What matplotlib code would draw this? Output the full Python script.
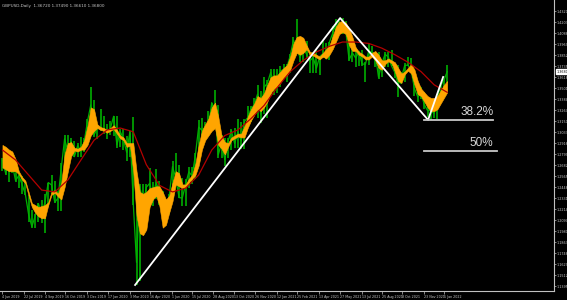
import numpy as np
import pandas as pd
import matplotlib
matplotlib.use('Agg')
import matplotlib.pyplot as plt

# weekly GBPUSD bars, week ending 7 Jun 2019 .. 14 Jan 2022
closes = [1.2735, 1.2595, 1.2740, 1.2695, 1.2520, 1.2575, 1.2480, 1.2375, 1.2160, 1.2030,
          1.2145, 1.2275, 1.2160, 1.2290, 1.2500, 1.2475, 1.2290, 1.2335, 1.2660, 1.2965,
          1.2830, 1.2940, 1.2775, 1.2895, 1.2835, 1.2935, 1.3150, 1.3325, 1.3005, 1.3080,
          1.3080, 1.3065, 1.3045, 1.3075, 1.3205, 1.2900, 1.3045, 1.2960, 1.2820, 1.3045,
          1.2280, 1.1650, 1.2460, 1.2265, 1.2450, 1.2490, 1.2360, 1.2500, 1.2400, 1.2130,
          1.2170, 1.2350, 1.2670, 1.2550, 1.2340, 1.2335, 1.2480, 1.2615, 1.2570, 1.2795,
          1.3090, 1.3055, 1.3090, 1.3090, 1.3350, 1.3275, 1.2795, 1.2920, 1.2745, 1.2940,
          1.3050, 1.2915, 1.3040, 1.2945, 1.3150, 1.3190, 1.3285, 1.3325, 1.3440, 1.3225,
          1.3515, 1.3555, 1.3670, 1.3565, 1.3595, 1.3685, 1.3705, 1.3730, 1.3850, 1.4015,
          1.3925, 1.3830, 1.3925, 1.3865, 1.3795, 1.3830, 1.3715, 1.3840, 1.3870, 1.3815,
          1.3995, 1.4090, 1.4185, 1.4185, 1.4155, 1.4110, 1.3805, 1.3880, 1.3825, 1.3890,
          1.3760, 1.3760, 1.3900, 1.3880, 1.3870, 1.3620, 1.3765, 1.3865, 1.3835, 1.3740,
          1.3670, 1.3545, 1.3615, 1.3745, 1.3750, 1.3685, 1.3500, 1.3410, 1.3445, 1.3330,
          1.3265, 1.3265, 1.3235, 1.3405, 1.3530, 1.3590, 1.3680]
highs = [1.2765, 1.2745, 1.2750, 1.2785, 1.2720, 1.2595, 1.2565, 1.2520, 1.2365, 1.2210,
         1.2160, 1.2285, 1.2310, 1.2380, 1.2500, 1.2580, 1.2515, 1.2410, 1.2710, 1.3010,
         1.3010, 1.2975, 1.2940, 1.2925, 1.2985, 1.2975, 1.3180, 1.3515, 1.3380, 1.3120,
         1.3285, 1.3210, 1.3120, 1.3150, 1.3210, 1.3210, 1.3070, 1.3070, 1.3000, 1.3050,
         1.3200, 1.2485, 1.2485, 1.2485, 1.2485, 1.2650, 1.2505, 1.2645, 1.2515, 1.2405,
         1.2295, 1.2375, 1.2730, 1.2815, 1.2690, 1.2545, 1.2535, 1.2670, 1.2670, 1.2810,
         1.3170, 1.3185, 1.3145, 1.3265, 1.3350, 1.3480, 1.3320, 1.3005, 1.2975, 1.2975,
         1.3065, 1.3080, 1.3175, 1.3140, 1.3180, 1.3315, 1.3310, 1.3400, 1.3540, 1.3475,
         1.3625, 1.3590, 1.3705, 1.3705, 1.3710, 1.3745, 1.3760, 1.3760, 1.3865, 1.4050,
         1.4240, 1.4020, 1.3990, 1.4005, 1.3890, 1.3890, 1.3920, 1.3845, 1.4010, 1.3980,
         1.4000, 1.4165, 1.4235, 1.4220, 1.4250, 1.4220, 1.4135, 1.3985, 1.3935, 1.3900,
         1.3910, 1.3785, 1.3985, 1.3955, 1.3890, 1.3890, 1.3780, 1.3890, 1.3890, 1.3910,
         1.3750, 1.3750, 1.3675, 1.3775, 1.3835, 1.3830, 1.3700, 1.3515, 1.3515, 1.3465,
         1.3375, 1.3275, 1.3375, 1.3440, 1.3550, 1.3600, 1.3750]
lows = [1.2625, 1.2585, 1.2505, 1.2605, 1.2510, 1.2440, 1.2380, 1.2370, 1.2080, 1.2015,
        1.2015, 1.2085, 1.2070, 1.1960, 1.2240, 1.2380, 1.2280, 1.2200, 1.2195, 1.2600,
        1.2810, 1.2845, 1.2770, 1.2770, 1.2770, 1.2820, 1.2900, 1.3100, 1.2985, 1.2960,
        1.3045, 1.3015, 1.2960, 1.3005, 1.2990, 1.2870, 1.2875, 1.2850, 1.2725, 1.2770,
        1.2260, 1.1410, 1.1450, 1.2165, 1.2160, 1.2405, 1.2250, 1.2325, 1.2265, 1.2075,
        1.2075, 1.2160, 1.2340, 1.2525, 1.2335, 1.2250, 1.2255, 1.2440, 1.2480, 1.2540,
        1.2790, 1.2980, 1.2980, 1.3055, 1.3065, 1.3175, 1.2765, 1.2765, 1.2675, 1.2765,
        1.2845, 1.2865, 1.2870, 1.2855, 1.2855, 1.3110, 1.3140, 1.3225, 1.3190, 1.3135,
        1.3225, 1.3190, 1.3430, 1.3430, 1.3450, 1.3520, 1.3625, 1.3565, 1.3665, 1.3835,
        1.3885, 1.3780, 1.3780, 1.3820, 1.3670, 1.3670, 1.3670, 1.3640, 1.3830, 1.3825,
        1.3800, 1.3990, 1.4010, 1.4085, 1.4085, 1.4075, 1.3790, 1.3785, 1.3730, 1.3735,
        1.3745, 1.3570, 1.3750, 1.3860, 1.3730, 1.3600, 1.3620, 1.3730, 1.3725, 1.3735,
        1.3610, 1.3410, 1.3545, 1.3570, 1.3735, 1.3670, 1.3425, 1.3355, 1.3385, 1.3280,
        1.3195, 1.3160, 1.3190, 1.3175, 1.3390, 1.3430, 1.3560]

# orange band (upper / lower edge), one value per week
band_hi = [1.290, 1.288, 1.285, 1.283, 1.275, 1.262, 1.256, 1.252, 1.240, 1.228,
           1.226, 1.224, 1.225, 1.226, 1.229, 1.240, 1.242, 1.238, 1.250, 1.280,
           1.292, 1.293, 1.287, 1.286, 1.288, 1.295, 1.310, 1.330, 1.328, 1.312,
           1.309, 1.308, 1.306, 1.308, 1.311, 1.306, 1.300, 1.298, 1.292, 1.292,
           1.292, 1.262, 1.240, 1.238, 1.240, 1.244, 1.245, 1.246, 1.246, 1.240,
           1.232, 1.236, 1.250, 1.262, 1.260, 1.248, 1.248, 1.254, 1.258, 1.270,
           1.290, 1.305, 1.312, 1.318, 1.330, 1.335, 1.320, 1.300, 1.293, 1.292,
           1.298, 1.300, 1.302, 1.302, 1.310, 1.320, 1.328, 1.334, 1.342, 1.340,
           1.345, 1.354, 1.362, 1.364, 1.364, 1.368, 1.372, 1.375, 1.384, 1.398,
           1.405, 1.406, 1.404, 1.396, 1.389, 1.388, 1.386, 1.384, 1.388, 1.392,
           1.396, 1.406, 1.416, 1.421, 1.422, 1.420, 1.414, 1.405, 1.394, 1.389,
           1.387, 1.384, 1.384, 1.388, 1.390, 1.386, 1.380, 1.380, 1.382, 1.380,
           1.378, 1.372, 1.366, 1.368, 1.372, 1.376, 1.370, 1.358, 1.350, 1.346,
           1.342, 1.340, 1.340, 1.342, 1.348, 1.354, 1.358]
band_lo = [1.266, 1.264, 1.262, 1.262, 1.262, 1.259, 1.253, 1.249, 1.236, 1.224,
           1.218, 1.214, 1.212, 1.212, 1.226, 1.237, 1.239, 1.235, 1.232, 1.245,
           1.262, 1.278, 1.284, 1.283, 1.285, 1.285, 1.290, 1.300, 1.305, 1.308,
           1.306, 1.305, 1.303, 1.305, 1.307, 1.302, 1.297, 1.295, 1.288, 1.289,
           1.262, 1.215, 1.196, 1.194, 1.200, 1.224, 1.232, 1.236, 1.225, 1.202,
           1.205, 1.218, 1.230, 1.248, 1.246, 1.244, 1.245, 1.250, 1.254, 1.258,
           1.268, 1.285, 1.295, 1.300, 1.305, 1.308, 1.290, 1.286, 1.280, 1.288,
           1.295, 1.297, 1.299, 1.298, 1.298, 1.308, 1.316, 1.322, 1.328, 1.326,
           1.330, 1.336, 1.345, 1.350, 1.352, 1.356, 1.362, 1.364, 1.370, 1.380,
           1.388, 1.386, 1.388, 1.392, 1.386, 1.385, 1.383, 1.381, 1.384, 1.382,
           1.386, 1.392, 1.400, 1.408, 1.410, 1.408, 1.396, 1.390, 1.390, 1.386,
           1.384, 1.381, 1.381, 1.384, 1.380, 1.372, 1.370, 1.376, 1.379, 1.377,
           1.368, 1.358, 1.356, 1.365, 1.369, 1.366, 1.354, 1.344, 1.342, 1.336,
           1.330, 1.326, 1.326, 1.328, 1.334, 1.340, 1.346]

# red moving average, every 4th week
ma_red = [1.2846, 1.2740, 1.2580, 1.2420, 1.2400, 1.2527, 1.2740, 1.2950, 1.3060,
          1.3080, 1.3040, 1.2690, 1.2470, 1.2400, 1.2440, 1.2580, 1.2846, 1.3000,
          1.3060, 1.3180, 1.3320, 1.3510, 1.3680, 1.3800, 1.3890, 1.3950, 1.3995,
          1.3995, 1.3980, 1.3930, 1.3860, 1.3780, 1.3680, 1.3540, 1.3460]

# white trend lines (week index, price) and fib levels
trend_w = [40.7, 103.4, 130.3, 134.9]
trend_p = [1.1410, 1.4250, 1.3166, 1.3623]
fib_names = ['38.2%', '50%']
fib_prices = [1.3166, 1.2836]
fib_ends = [150.2, 151.4]

date_labels = ['4 Jun 2019', '22 Jul 2019', '4 Sep 2019', '16 Oct 2019', '3 Dec 2019',
               '17 Jan 2020', '3 Mar 2020', '16 Apr 2020', '1 Jun 2020', '15 Jul 2020',
               '28 Aug 2020', '13 Oct 2020', '26 Nov 2020', '12 Jan 2021', '25 Feb 2021',
               '13 Apr 2021', '27 May 2021', '13 Jul 2021', '25 Aug 2021', '8 Oct 2021',
               '23 Nov 2021', '5 Jan 2022']
price_labels = [1.4320, 1.4203, 1.4086, 1.3969, 1.3852, 1.3735, 1.3618, 1.3501, 1.3384,
                1.3267, 1.3150, 1.3033, 1.2916, 1.2799, 1.2682, 1.2565, 1.2448, 1.2331,
                1.2214, 1.2097, 1.1980, 1.1863, 1.1746, 1.1629, 1.1512, 1.1395]

start = pd.Timestamp('2019-06-04')
wk = np.arange(len(closes)) + 0.14
wk_ma = np.arange(len(ma_red)) * 4 + 0.14
tick_w = [(pd.to_datetime(d) - start).days / 7.0 for d in date_labels]

fig = plt.figure(figsize=(5.67, 3.0), dpi=100)
fig.patch.set_facecolor('black')
ax = fig.add_axes([0, 9 / 300, 554 / 567, 291 / 300])
ax.set_facecolor('black')

ax.vlines(wk, lows, highs, color='#00a000', lw=1.3, zorder=2)
ax.plot(wk, closes, color='#00b000', lw=0.9, zorder=2)
ax.fill_between(wk, band_lo, band_hi, color='#ffa500', lw=0.4, edgecolor='#ffa500', zorder=3)
ax.plot(wk_ma, ma_red, color='#b40000', lw=0.9, zorder=4)
ax.plot(trend_w, trend_p, color='white', lw=1.3, zorder=5)

for name, p, end in zip(fib_names, fib_prices, fib_ends):
    ax.plot([129.0, end], [p, p], color='#c8c8c8', lw=1.3, zorder=5)
    ax.text(150.2, p + 0.0022, name, color='#d8d8d8', fontsize=8.5, family='Liberation Sans',
            ha='right', va='bottom', zorder=6)

ax.set_xlim(-0.61, 168.8)
ax.set_ylim(1.1346, 1.4442)

for s in ['left', 'top']:
    ax.spines[s].set_visible(False)
for s in ['right', 'bottom']:
    ax.spines[s].set_color('#c0c0c0')
    ax.spines[s].set_linewidth(0.8)

ax.set_xticks(tick_w)
ax.set_xticklabels(date_labels, fontsize=2.3, color='#c8c8c8', ha='left')
ax.yaxis.tick_right()
ax.set_yticks(price_labels)
ax.set_yticklabels(['%.4f' % v for v in price_labels], fontsize=2.4, color='#c8c8c8')
ax.tick_params(axis='x', length=2, width=0.5, color='#c0c0c0', pad=1)
ax.tick_params(axis='y', length=1.5, width=0.5, color='#c0c0c0', pad=0.5)

ax.text(1.004, closes[-1], '%.4f' % closes[-1], transform=ax.get_yaxis_transform(),
        fontsize=2.4, color='black', va='center', ha='left',
        bbox=dict(facecolor='white', edgecolor='white', pad=0.5))

fig.text(0.004, 0.985, 'GBPUSD,Daily  1.36720 1.37490 1.36610 1.36800', fontsize=3.0,
         color='#c8c8c8', va='top', ha='left')

fig.savefig('out.png', dpi=100, facecolor='black')
